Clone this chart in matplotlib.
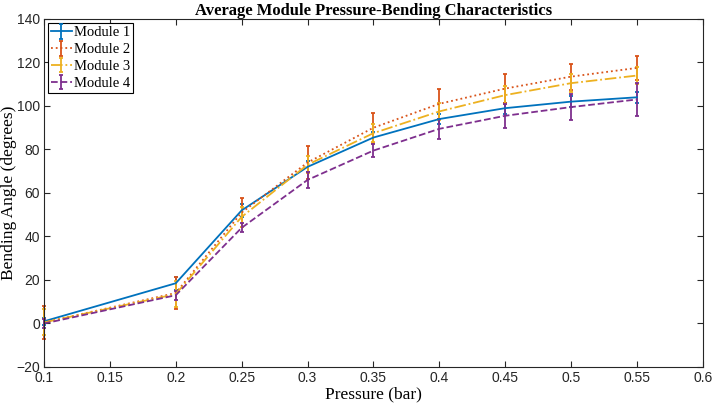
import matplotlib.pyplot as plt

# data
pressure = [0.1, 0.2, 0.25, 0.3, 0.35, 0.4, 0.45, 0.5, 0.55]
module1 = [1.0, 18.5, 52.0, 72.0, 85.5, 94.0, 99.0, 102.0, 104.0]
module2 = [0.5, 14.0, 51.0, 74.0, 90.0, 101.0, 108.0, 113.5, 117.5]
module3 = [0.5, 13.5, 49.0, 73.0, 87.5, 97.5, 105.0, 110.5, 114.0]
module4 = [0.0, 13.0, 44.0, 66.0, 79.5, 89.5, 95.5, 99.5, 103.0]
err1 = [1.5, 3.0, 3.0, 2.5, 2.5, 2.5, 2.5, 2.5, 2.5]
err2 = [7.5, 7.5, 6.5, 7.5, 7.0, 7.0, 6.6, 6.0, 5.5]
err3 = [6.0, 6.0, 4.5, 4.0, 4.0, 4.0, 4.0, 4.0, 4.0]
err4 = [2.0, 2.0, 2.0, 3.5, 3.0, 4.5, 5.5, 6.0, 7.5]
labels = ['Module 1', 'Module 2', 'Module 3', 'Module 4']
xticks = [0.1, 0.15, 0.2, 0.25, 0.3, 0.35, 0.4, 0.45, 0.5, 0.55, 0.6]
xticklabels = ['0.1', '0.15', '0.2', '0.25', '0.3', '0.35', '0.4', '0.45', '0.5', '0.55', '0.6']

colors = ['#0072BD', '#D95319', '#EDB120', '#7E2F8E']  # matlab default order
styles = ['-', ':', '-.', '--']

fig = plt.figure(figsize=(7.15, 4.04), dpi=100, facecolor='white')
ax = fig.add_axes([0.0615, 0.0916, 0.9215, 0.8614])

series = [module1, module2, module3, module4]
errs = [err1, err2, err3, err4]
for y, e, c, ls, lab in zip(series, errs, colors, styles, labels):
    cont = ax.errorbar(pressure, y, yerr=e, color=c, linestyle=ls, linewidth=1.3,
                       elinewidth=1.3, capsize=1.5, capthick=1.3, label=lab)
    for art in cont.lines[1] + cont.lines[2]:
        art.set_clip_on(False)

ax.set_xlim(0.1, 0.6)
ax.set_ylim(-20, 140)
ax.set_xticks(xticks)
ax.set_xticklabels(xticklabels)
ax.set_yticks(range(-20, 141, 20))
ax.tick_params(direction='in', top=True, right=True, length=4, width=0.8,
               colors='#262626', labelsize=10, pad=3)
for lbl in ax.get_xticklabels() + ax.get_yticklabels():
    lbl.set_family('Liberation Sans')
for sp in ax.spines.values():
    sp.set_color('#262626')
    sp.set_linewidth(0.8)

ax.set_title('Average Module Pressure-Bending Characteristics', family='Liberation Serif',
             fontweight='bold', fontsize=12, pad=3)
ax.set_xlabel('Pressure (bar)', family='Liberation Serif', fontsize=12.5, labelpad=1)
ax.set_ylabel('Bending Angle (degrees)', family='Liberation Serif', fontsize=12.5, labelpad=-1)

leg = ax.legend(loc='upper left', prop={'family': 'Liberation Serif', 'size': 10.5},
                fancybox=False, edgecolor='black', framealpha=1, handlelength=1.4,
                handletextpad=0.15, borderpad=0.2, labelspacing=0.25, borderaxespad=0.3)
leg.get_frame().set_linewidth(0.8)

plt.savefig('out.png', dpi=100)
